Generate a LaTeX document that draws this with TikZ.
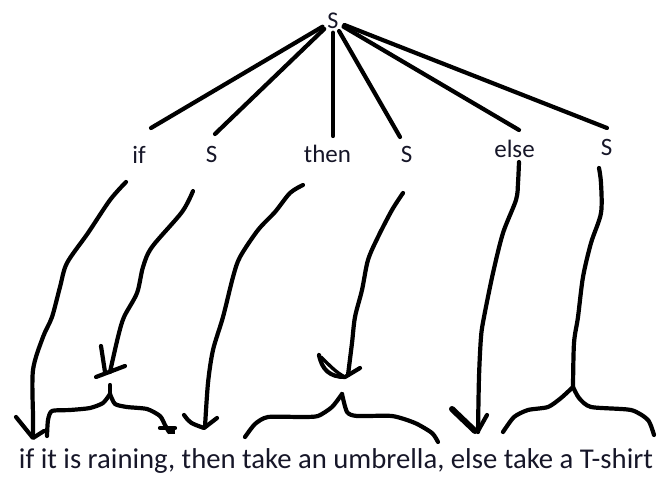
\documentclass[tikz,border=0pt]{standalone}
\usepackage{fontspec}
\setmainfont{Carlito}
\definecolor{txt}{RGB}{22,22,40}
\begin{document}
\begin{tikzpicture}[x=1pt,y=-1pt,
  ink/.style={line width=4.2pt, line cap=round, line join=round, black},
  thinink/.style={line width=3.4pt, line cap=round, line join=round, black},
  lab/.style={font=\fontsize{25}{30}\selectfont, text=txt, inner sep=0pt, anchor=base},
  root/.style={font=\fontsize{24}{30}\selectfont, text=txt, circle, inner sep=0pt, minimum size=24pt}]
\useasboundingbox (0,0) rectangle (661,487);
% labels
\node[root] (S) at (333,20.5) {S};
\node[lab] (if) at (139,163) {if};
\node[lab] (s1) at (211.5,162) {S};
\node[lab] (then) at (327.5,162) {then};
\node[lab] (s2) at (406.5,162) {S};
\node[lab] (else) at (514.5,157) {else};
\node[lab] (s3) at (606.5,155) {S};
\node[text=txt, inner sep=0pt, anchor=base] (sent) at (336,468)
  {\resizebox{634pt}{!}{\fontsize{23}{28}\selectfont if it is raining, then take an umbrella, else take a T-shirt}};
% line ends
\coordinate (eif) at (151,128);
\coordinate (es1) at (215,134);
\coordinate (ethen) at (333,136);
\coordinate (es2) at (400,137);
\coordinate (eelse) at (519,130);
\coordinate (es3) at (607,128);
\draw[ink] (S) -- (eif);
\draw[ink] (S) -- (es1);
\draw[ink] (S.south) -- (ethen);
\draw[ink] (S) -- (es2);
\draw[ink] (S) -- (eelse);
\draw[ink] (S) -- (es3);
% arrow from "if"
\draw[ink] plot[smooth, tension=0.5] coordinates {(126,182) (110,200) (88,233) (67,263) (60,287) (52,317) (43,337) (33,370) (33,417) (33,437)};
\draw[ink] (16,417) -- (33,438) -- (44,431);
% brace 1
\draw[ink] plot[smooth, tension=0.4] coordinates {(47,436) (48,420) (52,411) (70,410) (90,408) (103,403) (110,394)};
\draw[ink] plot[smooth, tension=0.4] coordinates {(110,394) (115,404) (127,407) (147,409) (160,416) (165,425) (169,432)};
\draw[ink] (110,385) -- (110,395);
\draw[ink] (160,428) -- (175,428);
\draw[line width=5.5pt, black] (172,427) -- (172,434);
% arrow from S1
\draw[ink] plot[smooth, tension=0.5] coordinates {(193,191) (182,212) (152,247) (143,267) (137,293) (124,317) (118,337) (110,372)};
\draw[ink] (101,346) -- (105,372);
\draw[ink] (96,377) -- (125,366);
% arrow from then
\draw[ink] plot[smooth, tension=0.5] coordinates {(303,185) (290,193) (275,212) (258,230) (240,257) (233,277) (223,317) (213,350) (208,383) (205,427)};
\draw[ink] (184,415) .. controls (190,423) .. (204,428) -- (217,418);
% arrow from S2
\draw[ink] plot[smooth, tension=0.5] coordinates {(403,193) (392,210) (378,237) (368,260) (362,290) (355,317) (352,343) (348,375)};
\draw[ink] (319,355) .. controls (322,370) and (330,377) .. (345,377) -- (360,368);
\draw[thinink] (321,357) .. controls (330,366) and (336,372) .. (343,376);
% brace 2
\draw[ink] plot[smooth, tension=0.4] coordinates {(245,437) (255,424) (268,417) (302,417) (318,416) (332,407) (342,394)};
\draw[ink] plot[smooth, tension=0.4] coordinates {(342,394) (347,412) (357,416) (392,416) (415,423) (432,433) (438,442)};
% arrow from else
\draw[ink] plot[smooth, tension=0.5] coordinates {(519,162) (518,183) (516,200) (503,233) (493,273) (484,317) (481,337) (479,377) (478,432)};
\draw[line width=6pt, line cap=round, black] (452,409) -- (475,431);
\draw[ink] (487,415) -- (478,431);
% arrow from S3 and brace 3
\draw[ink] plot[smooth, tension=0.5] coordinates {(599,168) (601,183) (601,213) (591,243) (583,277) (578,317) (574,343) (573,387)};
\draw[ink] plot[smooth, tension=0.4] coordinates {(503,432) (514,417) (528,410) (548,407) (561,398) (573,387)};
\draw[ink] plot[smooth, tension=0.4] coordinates {(573,387) (579,398) (591,407) (631,410) (648,420) (654,435)};
\end{tikzpicture}
\end{document}
